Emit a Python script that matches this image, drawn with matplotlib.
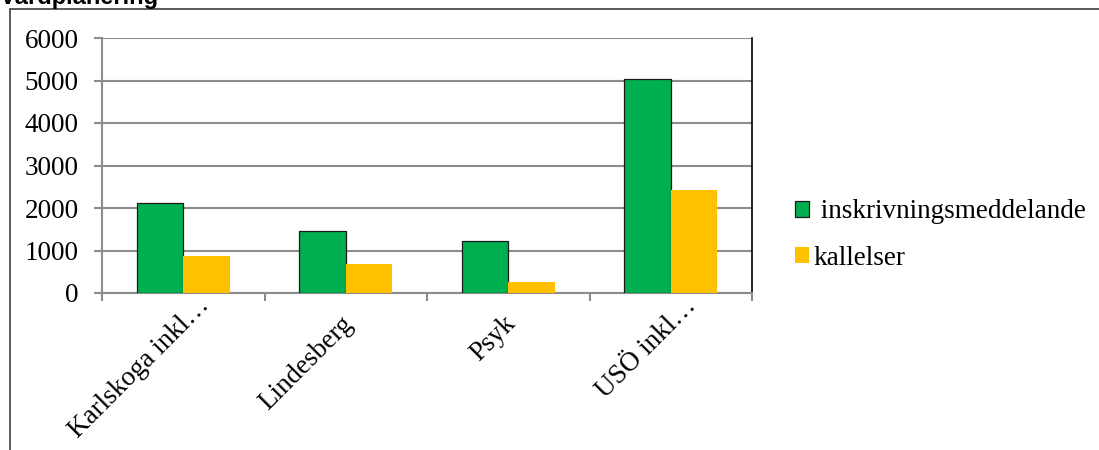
import matplotlib
matplotlib.use("Agg")
import matplotlib.pyplot as plt
import matplotlib.transforms as mtransforms
from matplotlib.patches import Rectangle, Patch
import numpy as np

plt.rcParams["font.family"] = ["Liberation Serif", "DejaVu Serif"]

# Data per site
categories = ["Karlskoga inkl…", "Lindesberg", "Psyk", "USÖ inkl…"]
inskrivning = [2125, 1460, 1235, 5040]
kallelser = [880, 680, 260, 2430]
series_names = [" inskrivningsmeddelande", "kallelser"]
yticks = [0, 1000, 2000, 3000, 4000, 5000, 6000]

green = "#00B050"
yellow = "#FFC000"
grid_grey = "#8C8C8C"
fs = 19.5

W, H = 1099, 450
fig = plt.figure(figsize=(W / 100, H / 100), dpi=100)

# chart frame (runs off the right and bottom edges)
fig.patches.append(Rectangle((9.5 / W, -0.1), 1.2, 1.1 - 8.5 / H,
                             transform=fig.transFigure, fill=False,
                             edgecolor="#404040", linewidth=1.2))
fig.text(0, 1 - 4 / H, "Vårdplanering", family="Liberation Sans",
         weight="bold", fontsize=17, ha="left", va="baseline")

ax = fig.add_axes([102 / W, (H - 293) / H, (752 - 102) / W, (293 - 38) / H])

x = np.arange(len(categories))
bw = 0.286
ax.bar(x - bw / 2, inskrivning, bw, color=green, edgecolor="#1a1a1a",
       linewidth=0.9, zorder=3)
ax.bar(x + bw / 2, kallelser, bw, color=yellow, linewidth=0, zorder=3)

ax.set_xlim(-0.5, len(categories) - 0.5)
ax.set_ylim(0, 6000)
ax.set_yticks(yticks)
ax.set_yticklabels([str(v) for v in yticks])
ax.yaxis.grid(True, color=grid_grey, linewidth=1.5, zorder=0)
ax.set_axisbelow(True)

# category boundaries carry the x ticks
ax.set_xticks(np.arange(len(categories) + 1) - 0.5)
ax.set_xticklabels([])
ax.set_xticks(x, minor=True)
ax.set_xticklabels(categories, minor=True, rotation=45, ha="right",
                   va="center", rotation_mode="anchor")
ax.tick_params(axis="x", which="minor", length=0, pad=8, labelsize=fs)
ax.tick_params(axis="x", which="major", length=6, width=1.5, color=grid_grey)
ax.tick_params(axis="y", length=6, width=1.5, color=grid_grey, pad=11,
               labelsize=fs)
# truncated labels sit a little further right than the full ones
for lab in ax.get_xticklabels(minor=True):
    if lab.get_text().endswith("…"):
        dx, dy = 22, 2
    else:
        dx, dy = 4, -16
    off = mtransforms.ScaledTranslation(dx / 100, dy / 100, fig.dpi_scale_trans)
    lab.set_transform(lab.get_transform() + off)

for side in ["left", "bottom"]:
    ax.spines[side].set_color(grid_grey)
    ax.spines[side].set_linewidth(1.5)
ax.spines["top"].set_visible(False)
ax.spines["right"].set_color("black")
ax.spines["right"].set_linewidth(1.2)

handles = [Patch(facecolor=green, edgecolor="#1a1a1a", linewidth=0.9),
           Patch(facecolor=yellow, linewidth=0)]
fig.legend(handles, series_names, loc="center left",
           bbox_to_anchor=(795 / W, 1 - 235 / H), frameon=False,
           fontsize=fs, handlelength=0.5, handleheight=0.5,
           handletextpad=0.2, labelspacing=0.78, borderpad=0,
           borderaxespad=0)

fig.savefig("out.png", dpi=100)
